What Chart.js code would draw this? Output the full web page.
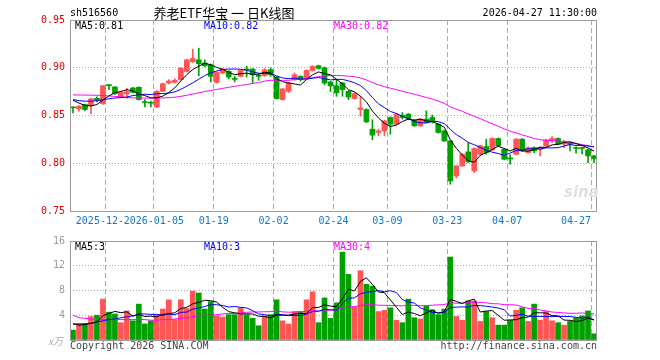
<!DOCTYPE html>
<html><head><meta charset="utf-8">
<script src="https://cdn.jsdelivr.net/npm/chart.js@4.4.1/dist/chart.umd.min.js"></script>
<style>
html,body{margin:0;padding:0;background:#fff;}
#wrap{position:relative;width:660px;height:360px;overflow:hidden;font-family:'DejaVu Sans Mono',monospace;font-size:10px;}
canvas{position:absolute;left:0;}
.t{position:absolute;line-height:12px;white-space:nowrap;}
</style></head><body>
<div id="wrap">
<canvas id="main" width="660" height="230" style="top:0"></canvas>
<canvas id="vol" width="660" height="130" style="top:230px"></canvas>
<div class="t" style="left:70px;top:7px;color:#000">sh516560</div>
<div class="t" style="left:124px;width:200px;top:5px;line-height:15px;text-align:center;font-family:'Noto Sans CJK SC',sans-serif;font-size:13px;color:#000">养老ETF华宝 一 日K线图</div>
<div class="t" style="right:63px;top:7px;color:#000">2026-04-27 11:30:00</div>
<div class="t" id="l5" style="left:75px;top:20px;color:#000"></div>
<div class="t" id="l10" style="left:204px;top:20px;color:#0000ff"></div>
<div class="t" id="l30" style="left:334px;top:20px;color:#ff00ff"></div>
<div class="t" id="v5" style="left:75px;top:241px;color:#000"></div>
<div class="t" id="v10" style="left:204px;top:241px;color:#0000ff"></div>
<div class="t" id="v30" style="left:334px;top:241px;color:#ff00ff"></div>
<div class="t" style="left:48px;top:335px;color:#aaa;font-family:'Noto Sans CJK SC',sans-serif;font-size:10px;font-style:italic">x万</div>
<div class="t" style="left:70px;top:340px;color:#444">Copyright 2026 SINA.COM</div>
<div class="t" style="right:63px;top:340px;color:#444">http://finance.sina.com.cn</div>
<div class="t" style="left:564px;top:184px;color:#e0e0e0;font-family:'DejaVu Sans',sans-serif;font-size:15px;line-height:16px;font-weight:bold;font-style:italic">sina</div>
</div>
<script>
const dates = ['2025-12-12','2025-12-15','2025-12-16','2025-12-17','2025-12-18','2025-12-19','2025-12-22','2025-12-23','2025-12-24','2025-12-25','2025-12-26','2025-12-29','2025-12-30','2025-12-31',
'2026-01-05','2026-01-06','2026-01-07','2026-01-08','2026-01-09','2026-01-12','2026-01-13','2026-01-14','2026-01-15','2026-01-16','2026-01-19','2026-01-20','2026-01-21','2026-01-22','2026-01-23','2026-01-26','2026-01-27','2026-01-28','2026-01-29','2026-01-30',
'2026-02-02','2026-02-03','2026-02-04','2026-02-05','2026-02-06','2026-02-09','2026-02-10','2026-02-11','2026-02-12','2026-02-13','2026-02-24','2026-02-25','2026-02-26','2026-02-27',
'2026-03-02','2026-03-03','2026-03-04','2026-03-05','2026-03-06','2026-03-09','2026-03-10','2026-03-11','2026-03-12','2026-03-13','2026-03-16','2026-03-17','2026-03-18','2026-03-19','2026-03-20','2026-03-23','2026-03-24','2026-03-25','2026-03-26','2026-03-27','2026-03-30','2026-03-31',
'2026-04-01','2026-04-02','2026-04-03','2026-04-07','2026-04-08','2026-04-09','2026-04-10','2026-04-13','2026-04-14','2026-04-15','2026-04-16','2026-04-17','2026-04-20','2026-04-21','2026-04-22','2026-04-23','2026-04-24','2026-04-27'];

const openP = [.8587,.8569,.8615,.8604,.8680,.8625,.8819,.8799,.8694,.8726,
.8788,.8795,.8643,.8636,.8590,.8753,.8840,.8847,.8875,.8962,
.9063,.9083,.9049,.9031,.8847,.8944,.8962,.8885,.8910,.8983,
.8986,.8924,.8917,.8979,.8903,.8667,.8753,.8875,.8910,.8892,
.8972,.9021,.9000,.8851,.8812,.8840,.8753,.8677,.8563,.8563,
.8357,.8322,.8339,.8479,.8409,.8503,.8514,.8451,.8392,.8462,
.8479,.8409,.8339,.8234,.7867,.7972,.8119,.7920,.8094,.8175,
.8140,.8259,.8147,.8052,.8094,.8252,.8112,.8164,.8147,.8182,
.8245,.8259,.8199,.8210,.8161,.8161,.8140,.8077];
const highP = [.8590,.8604,.8620,.8680,.8695,.8816,.8822,.8803,.8753,.8785,
.8795,.8799,.8667,.8650,.8760,.8840,.8875,.8885,.9000,.9090,
.9194,.9205,.9083,.9040,.8958,.8993,.8970,.8910,.8979,.9014,
.8993,.8938,.8990,.9000,.8910,.8785,.8847,.8945,.8917,.8979,
.9021,.9028,.9007,.8858,.8875,.8847,.8760,.8736,.8701,.8570,
.8455,.8357,.8452,.8486,.8521,.8531,.8521,.8458,.8469,.8549,
.8503,.8416,.8346,.8241,.7979,.8101,.8217,.8161,.8189,.8252,
.8266,.8266,.8154,.8087,.8259,.8259,.8171,.8171,.8171,.8252,
.8280,.8266,.8241,.8217,.8171,.8168,.8147,.8084];
const lowP = [.8528,.8545,.8550,.8517,.8643,.8615,.8771,.8722,.8687,.8680,
.8736,.8660,.8590,.8590,.8583,.8750,.8830,.8840,.8870,.8955,
.9055,.8917,.9010,.8851,.8840,.8937,.8885,.8851,.8903,.8903,
.8840,.8868,.8910,.8910,.8670,.8660,.8740,.8868,.8861,.8885,
.8965,.8986,.8820,.8750,.8701,.8701,.8667,.8670,.8493,.8425,
.8245,.8287,.8287,.8304,.8402,.8462,.8455,.8385,.8385,.8420,
.8420,.8315,.8227,.7780,.7846,.7965,.8007,.7902,.8087,.8094,
.8133,.8175,.8035,.7990,.8087,.8122,.8105,.8112,.8077,.8175,
.8217,.8192,.8164,.8129,.8105,.8098,.8007,.8007];
const closeP = [.8580,.8597,.8563,.8674,.8663,.8813,.8813,.8729,.8743,.8750,
.8743,.8667,.8635,.8629,.8753,.8833,.8861,.8868,.8997,.9083,
.9097,.9042,.9021,.8910,.8951,.8986,.8903,.8878,.8972,.8976,
.8927,.8910,.8979,.8927,.8677,.8778,.8840,.8927,.8875,.8972,
.9014,.8993,.8840,.8810,.8736,.8771,.8694,.8729,.8580,.8434,
.8294,.8339,.8444,.8409,.8514,.8479,.8462,.8392,.8462,.8427,
.8444,.8322,.8234,.7815,.7972,.8094,.8014,.8154,.8182,.8112,
.8259,.8182,.8042,.8045,.8252,.8129,.8164,.8129,.8164,.8245,
.8259,.8199,.8217,.8199,.8154,.8154,.8077,.8049];
const volume = [1.6,2.6,2.6,3.8,4.0,6.6,4.5,4.2,2.8,4.7,
3.1,5.8,2.6,3.1,4.1,5.0,6.5,3.3,6.5,5.1,
7.9,7.6,5.0,6.2,3.9,3.7,4.1,4.1,5.2,4.1,
3.5,2.3,3.9,4.1,6.5,3.1,2.6,4.6,4.6,6.5,
7.8,2.8,6.8,3.5,6.0,14.2,10.6,5.3,11.2,9.0,
8.7,4.6,4.8,5.2,3.2,2.8,6.6,3.6,3.4,5.5,
4.9,4.1,5.0,13.4,3.8,3.2,6.3,6.3,3.0,4.6,
3.6,2.4,2.4,3.2,4.8,5.2,3.0,5.8,3.2,4.6,
3.1,2.8,2.4,3.0,3.6,3.9,4.7,1.0];
const ma5 = [.8660,.8630,.8605,.8600,.8615,.8662,.8705,.8738,.8752,.8770,
.8756,.8726,.8708,.8685,.8685,.8703,.8742,.8789,.8862,.8928,
.8981,.9017,.9048,.9031,.9004,.8982,.8954,.8926,.8938,.8943,
.8931,.8933,.8953,.8944,.8884,.8854,.8840,.8830,.8819,.8878,
.8926,.8956,.8939,.8926,.8879,.8830,.8770,.8748,.8702,.8642,
.8546,.8475,.8418,.8384,.8400,.8437,.8462,.8451,.8462,.8444,
.8437,.8409,.8378,.8248,.8157,.8087,.8026,.8010,.8083,.8111,
.8144,.8178,.8155,.8128,.8156,.8130,.8126,.8144,.8168,.8166,
.8192,.8199,.8217,.8224,.8206,.8185,.8160,.8127];
const ma10 = [.8667,.8655,.8650,.8650,.8655,.8665,.8675,.8683,.8688,.8693,
.8709,.8716,.8723,.8719,.8728,.8730,.8734,.8748,.8774,.8807,
.8842,.8880,.8918,.8947,.8966,.8982,.8986,.8987,.8984,.8974,
.8957,.8943,.8939,.8941,.8914,.8893,.8886,.8891,.8882,.8881,
.8890,.8898,.8884,.8873,.8879,.8878,.8863,.8843,.8814,.8760,
.8688,.8623,.8583,.8543,.8521,.8492,.8468,.8435,.8423,.8422,
.8437,.8436,.8415,.8355,.8301,.8262,.8218,.8194,.8166,.8134,
.8116,.8102,.8083,.8106,.8134,.8137,.8152,.8150,.8148,.8161,
.8161,.8163,.8180,.8196,.8186,.8188,.8180,.8172];
const ma30 = [.8715,.8715,.8714,.8713,.8712,.8709,.8705,.8700,.8695,.8688,
.8685,.8683,.8682,.8682,.8682,.8684,.8687,.8692,.8700,.8712,
.8725,.8738,.8750,.8762,.8773,.8784,.8795,.8805,.8815,.8824,
.8836,.8846,.8860,.8869,.8869,.8868,.8869,.8875,.8880,.8887,
.8896,.8907,.8914,.8920,.8919,.8917,.8912,.8907,.8893,.8872,
.8845,.8821,.8802,.8786,.8771,.8754,.8739,.8723,.8706,.8688,
.8672,.8652,.8627,.8590,.8567,.8544,.8516,.8491,.8468,.8439,
.8414,.8387,.8360,.8335,.8318,.8297,.8279,.8259,.8246,.8239,
.8238,.8233,.8226,.8219,.8207,.8196,.8183,.8172];
const vma5 = [2.6,2.4,2.5,2.7,2.92,3.92,4.30,4.62,4.42,4.56,
3.86,4.12,3.80,3.86,3.74,4.12,4.26,4.40,5.08,5.28,
5.86,6.08,6.42,6.36,6.12,5.28,4.58,4.40,4.20,4.24,
4.20,3.84,3.80,3.58,4.06,3.98,4.04,4.18,4.28,4.28,
5.22,5.26,5.70,5.48,5.38,6.66,8.22,7.92,9.46,10.06,
8.96,7.76,7.66,6.46,5.30,4.12,4.52,4.28,3.92,4.38,
4.80,4.30,4.58,6.58,6.24,5.90,6.34,6.60,4.52,4.68,
4.76,3.98,3.20,3.24,3.28,3.60,3.72,4.40,4.40,4.36,
3.94,3.90,3.22,3.18,2.98,3.14,3.52,3.24];
const vma10 = [2.6,2.6,2.6,2.7,2.9,3.1,3.3,3.4,3.6,3.74,
3.89,4.21,4.21,4.14,4.15,3.99,4.19,4.10,4.47,4.51,
4.99,5.17,5.41,5.72,5.70,5.57,5.33,5.41,5.28,5.18,
4.74,4.21,4.10,3.89,4.15,4.09,3.94,3.99,3.93,4.17,
4.60,4.65,4.94,4.88,4.83,5.94,6.74,6.81,7.47,7.72,
7.81,7.99,7.79,7.96,7.68,6.54,6.14,5.97,5.19,4.84,
4.46,4.41,4.43,5.25,5.31,5.35,5.32,5.59,5.55,5.46,
5.33,5.16,4.90,3.88,3.98,4.18,3.85,3.80,3.82,3.82,
3.77,3.81,3.81,3.79,3.67,3.54,3.71,3.23];
const vma30 = [4.0,3.6,3.5,3.4,3.3,3.3,3.3,3.3,3.3,3.3,
3.3,3.3,3.3,3.2,3.2,3.3,3.3,3.4,3.5,3.6,
3.8,3.9,4.0,4.0,4.1,4.2,4.3,4.3,4.4,4.48,
4.54,4.53,4.57,4.58,4.67,4.55,4.49,4.50,4.56,4.62,
4.78,4.68,4.82,4.83,4.89,5.20,5.34,5.40,5.56,5.69,
5.72,5.62,5.61,5.58,5.55,5.52,5.61,5.59,5.53,5.58,
5.62,5.68,5.72,6.03,5.94,5.94,6.07,6.12,6.07,6.01,
5.87,5.85,5.71,5.70,5.66,5.36,5.10,5.12,4.85,4.71,
4.52,4.46,4.38,4.31,4.32,4.36,4.29,4.21];

const tickDates = ['2025-12-22','2026-01-05','2026-01-19','2026-02-02','2026-02-24','2026-03-09','2026-03-23','2026-04-07','2026-04-27'];
const tickTexts = ['2025-12-22','2026-01-05','01-19','02-02','02-24','03-09','03-23','04-07','04-27     '];
const priceTicks = [0.75, 0.80, 0.85, 0.90, 0.95];
const volTicks = [0, 4, 8, 12, 16];

const UP = '#ff5555', DOWN = '#00a000';
const colors = closeP.map((c, i) => c >= openP[i] ? UP : DOWN);
const tickIdx = new Set(tickDates.map(d => dates.indexOf(d)));
const MONO = {family: "'DejaVu Sans Mono', monospace", size: 10};
const CLEAR = 'rgba(0,0,0,0)';

document.getElementById('l5').textContent = 'MA5:' + ma5[ma5.length-1].toFixed(2);
document.getElementById('l10').textContent = 'MA10:' + ma10[ma10.length-1].toFixed(2);
document.getElementById('l30').textContent = 'MA30:' + ma30[ma30.length-1].toFixed(2);
document.getElementById('v5').textContent = 'MA5:' + Math.round(vma5[vma5.length-1]);
document.getElementById('v10').textContent = 'MA10:' + Math.round(vma10[vma10.length-1]);
document.getElementById('v30').textContent = 'MA30:' + Math.round(vma30[vma30.length-1]);

const frame = {
  id: 'frame',
  afterDraw(chart) {
    const {ctx, chartArea: a} = chart;
    ctx.save();
    ctx.strokeStyle = '#999';
    ctx.lineWidth = 1;
    ctx.setLineDash([]);
    const x0 = Math.round(a.left) + 0.5, y0 = Math.round(a.top) + 0.5;
    const x1 = Math.round(a.right) - 0.5, y1 = Math.round(a.bottom) + 0.5;
    ctx.strokeRect(x0, y0, x1 - x0, y1 - y0);
    ctx.restore();
  }
};

function xScale(showLabels) {
  return {
    type: 'category', offset: true,
    grid: {offset: true, drawTicks: false, lineWidth: 1,
      color: c => tickIdx.has(c.index) ? '#aaa' : CLEAR},
    border: {display: false, dash: [5, 3]},
    ticks: {display: showLabels, autoSkip: false, maxRotation: 0, minRotation: 0,
      labelOffset: -3, padding: 4, color: '#0a78d2', font: MONO,
      showLabelBackdrop: true, backdropColor: '#fff', backdropPadding: 0,
      callback: (v, i) => { const k = tickDates.indexOf(dates[i]); return k >= 0 ? tickTexts[k] : ''; }},
    afterFit: s => { s.height = showLabels ? 19 : 0; }
  };
}

const lineDs = (data, color) => ({type: 'line', data, borderColor: color, borderWidth: 1,
  pointRadius: 0, pointHoverRadius: 0, tension: 0, fill: false, order: 1});

new Chart(document.getElementById('main'), {
  type: 'bar',
  data: {
    labels: dates,
    datasets: [
      {type: 'bar', data: lowP.map((l, i) => [l, highP[i]]), backgroundColor: colors,
        barThickness: 1, grouped: false, order: 3},
      {type: 'bar', data: openP.map((o, i) => [o, closeP[i]]), backgroundColor: colors,
        barThickness: 5, grouped: false, minBarLength: 1, order: 2},
      lineDs(ma5, '#000000'),
      lineDs(ma10, '#0000ff'),
      lineDs(ma30, '#ff00ff')
    ]
  },
  options: {
    responsive: false, devicePixelRatio: 1, animation: false, events: [],
    layout: {padding: {left: 0, right: 63, top: 20, bottom: 0}},
    plugins: {legend: {display: false}, tooltip: {enabled: false}},
    scales: {
      x: xScale(true),
      y: {type: 'linear', position: 'left', min: priceTicks[0], max: priceTicks[priceTicks.length-1],
        afterBuildTicks: s => { s.ticks = priceTicks.map(v => ({value: v})); },
        ticks: {padding: 5, color: '#e60000', font: MONO, callback: v => Number(v).toFixed(2)},
        grid: {drawTicks: false, lineWidth: 1,
          color: c => (c.index === 0 || c.index === priceTicks.length-1) ? CLEAR : '#aaa'},
        border: {display: false, dash: [1, 2]},
        afterFit: s => { s.width = 70; }}
    }
  },
  plugins: [frame]
});

new Chart(document.getElementById('vol'), {
  type: 'bar',
  data: {
    labels: dates,
    datasets: [
      {type: 'bar', data: volume, backgroundColor: colors, barThickness: 5, grouped: false, order: 2},
      lineDs(vma5, '#000000'),
      lineDs(vma10, '#0000ff'),
      lineDs(vma30, '#ff00ff')
    ]
  },
  options: {
    responsive: false, devicePixelRatio: 1, animation: false, events: [],
    layout: {padding: {left: 0, right: 63, top: 10, bottom: 20}},
    plugins: {legend: {display: false}, tooltip: {enabled: false}},
    scales: {
      x: xScale(false),
      y: {type: 'linear', position: 'left', min: volTicks[0], max: volTicks[volTicks.length-1],
        afterBuildTicks: s => { s.ticks = volTicks.map(v => ({value: v})); },
        ticks: {padding: 5, color: '#999', font: MONO, callback: v => v === 0 ? '' : String(v)},
        grid: {drawTicks: false, lineWidth: 1,
          color: c => (c.index === 0 || c.index === volTicks.length-1) ? CLEAR : '#aaa'},
        border: {display: false, dash: [1, 2]},
        afterFit: s => { s.width = 70; }}
    }
  },
  plugins: [frame]
});
</script>
</body></html>
